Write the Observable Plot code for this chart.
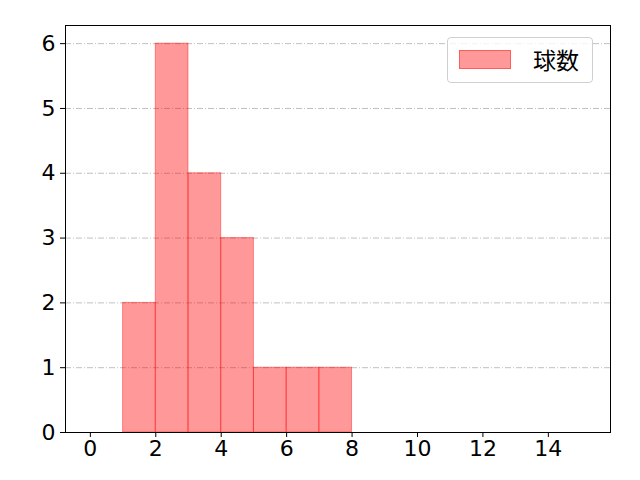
<!DOCTYPE html>
<html><head><meta charset="utf-8">
<script src="https://cdn.jsdelivr.net/npm/d3@7"></script>
<script src="https://cdn.jsdelivr.net/npm/@observablehq/plot@0.6"></script>
<style>
body{margin:0;background:#fff;font-family:"Noto Sans CJK JP","Noto Sans",sans-serif;}
#wrap{position:relative;width:640px;height:480px;}
#wrap svg text{font-size:22px !important;font-family:"DejaVu Sans",sans-serif !important;}
#legend{position:absolute;left:447px;top:37px;width:146px;height:46px;border:1px solid #d0d0d0;border-radius:4px;background:rgba(255,255,255,0.8);box-sizing:border-box;}
#legend .sw{position:absolute;left:11px;top:12px;width:52px;height:19px;background:rgba(255,0,0,0.4);border:1px solid rgba(255,0,0,0.4);box-sizing:border-box;}
#legend .tx{position:absolute;left:85px;top:5px;font-size:23px;line-height:32px;color:#000;}
</style></head>
<body><div id="wrap"><div id="legend"><div class="sw"></div><div class="tx">球数</div></div></div>
<script>
const binStart = [1, 2, 3, 4, 5, 6, 7];
const binEnd = [2, 3, 4, 5, 6, 7, 8];
const counts = [2, 6, 4, 3, 1, 1, 1];
const xTicks = [0, 2, 4, 6, 8, 10, 12, 14];
const yTicks = [0, 1, 2, 3, 4, 5, 6];
const seriesName = "球数";

const data = binStart.map((s, i) => ({x1: s, x2: binEnd[i], y: counts[i]}));

const chart = Plot.plot({
  width: 640, height: 480,
  marginLeft: 65, marginRight: 30, marginTop: 25, marginBottom: 48,
  style: {color: "#000", background: "#fff"},
  x: {domain: [-0.76, 15.9], ticks: xTicks, label: null},
  y: {domain: [0, 6.28], ticks: yTicks, label: null},
  marks: [
    Plot.ruleY(yTicks, {stroke: "#b0b0b0", strokeWidth: 0.8, strokeDasharray: "6,2,1,2"}),
    Plot.rectY(data, {x1: "x1", x2: "x2", y: "y", fill: "red", fillOpacity: 0.4, stroke: "red", strokeOpacity: 0.4, strokeWidth: 1}),
    Plot.axisX({ticks: xTicks, tickSize: 5, tickPadding: 3, tickFormat: d => String(d), label: null, stroke: "#000"}),
    Plot.axisY({ticks: yTicks, tickSize: 5, tickPadding: 5, tickFormat: d => String(d), label: null, stroke: "#000"}),
    Plot.frame({stroke: "#000", strokeWidth: 1})
  ]
});
document.getElementById("wrap").prepend(chart);
</script>
</body></html>
